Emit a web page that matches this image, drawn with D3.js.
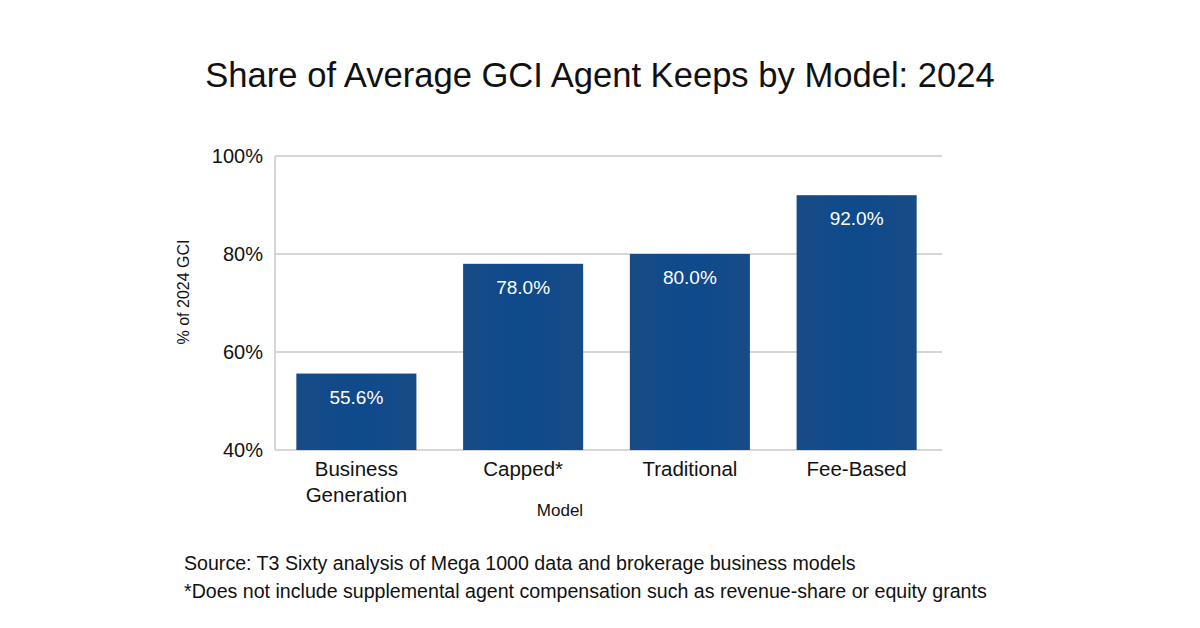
<!DOCTYPE html>
<html lang="en">
  <head>
    <meta charset="UTF-8" />
    <title>Share of Average GCI Agent Keeps by Model: 2024</title>
    <script src="https://d3js.org/d3.v7.min.js"></script>
    <style>
      body {
        margin: 0;
        background: #fff;
      }
      svg {
        display: block;
        font-family: "Liberation Sans", Arial, sans-serif;
      }
      .grid line {
        stroke: #c9c9c9;
        stroke-width: 1.5px;
      }
      .tick text {
        fill: #111;
      }
    </style>
  </head>
  <body>
    <svg id="chart" width="1200" height="628"></svg>
    <script>
      const models = [["Business", "Generation"], ["Capped*"], ["Traditional"], ["Fee-Based"]];
      const shares = [55.6, 78.0, 80.0, 92.0];
      const yTicks = [40, 60, 80, 100];
      const notes = [
        "Source: T3 Sixty analysis of Mega 1000 data and brokerage business models",
        "*Does not include supplemental agent compensation such as revenue-share or equity grants",
      ];

      const width = 1200;
      const height = 628;
      const margin = { top: 156, right: 258, bottom: 178, left: 275 };

      const svg = d3.select("#chart");

      // Title
      svg
        .append("text")
        .attr("x", width / 2)
        .attr("y", 87)
        .attr("text-anchor", "middle")
        .attr("font-size", 34.6)
        .attr("fill", "#111")
        .text("Share of Average GCI Agent Keeps by Model: 2024");

      const x = d3
        .scaleBand()
        .domain(d3.range(models.length))
        .range([margin.left, width - margin.right])
        .paddingInner(0.28)
        .paddingOuter(0.14);

      const y = d3
        .scaleLinear()
        .domain([40, 100])
        .range([height - margin.bottom, margin.top]);

      // Gridlines
      svg
        .append("g")
        .attr("class", "grid")
        .selectAll("line")
        .data(yTicks)
        .join("line")
        .attr("x1", margin.left)
        .attr("x2", width - margin.right)
        .attr("y1", (d) => y(d))
        .attr("y2", (d) => y(d));

      // left axis line
      svg
        .append("line")
        .attr("x1", margin.left)
        .attr("x2", margin.left)
        .attr("y1", y(100))
        .attr("y2", y(40))
        .attr("stroke", "#c9c9c9")
        .attr("stroke-width", 1.5);

      // Y axis labels
      const yAxis = svg
        .append("g")
        .attr("transform", `translate(${margin.left},0)`)
        .call(
          d3
            .axisLeft(y)
            .tickValues(yTicks)
            .tickSize(0)
            .tickPadding(12)
            .tickFormat((d) => d + "%")
        );
      yAxis.select(".domain").remove();
      yAxis.selectAll("text").attr("font-size", 20).attr("font-family", "Liberation Sans, Arial, sans-serif");

      // Bars
      const grad = svg
        .append("defs")
        .append("linearGradient")
        .attr("id", "barFill")
        .attr("x1", 0)
        .attr("x2", 1)
        .attr("y1", 0)
        .attr("y2", 0);
      grad.append("stop").attr("offset", "0%").attr("stop-color", "#174b86");
      grad.append("stop").attr("offset", "50%").attr("stop-color", "#0f4a8c");
      grad.append("stop").attr("offset", "100%").attr("stop-color", "#174b86");

      svg
        .append("g")
        .selectAll("rect")
        .data(shares)
        .join("rect")
        .attr("x", (d, i) => x(i) - 2)
        .attr("y", (d) => y(d))
        .attr("width", x.bandwidth())
        .attr("height", (d) => y(40) - y(d))
        .attr("fill", "url(#barFill)");

      // Value labels
      svg
        .append("g")
        .selectAll("text")
        .data(shares)
        .join("text")
        .attr("x", (d, i) => x(i) - 2 + x.bandwidth() / 2)
        .attr("y", (d) => y(d) + 30)
        .attr("text-anchor", "middle")
        .attr("font-size", 19)
        .attr("fill", "#fff")
        .text((d) => d.toFixed(1) + "%");

      // Category labels
      const cats = svg
        .append("g")
        .selectAll("text")
        .data(models)
        .join("text")
        .attr("x", (d, i) => x(i) - 2 + x.bandwidth() / 2)
        .attr("y", y(40) + 26)
        .attr("text-anchor", "middle")
        .attr("font-size", 20.5)
        .attr("fill", "#111");
      cats
        .selectAll("tspan")
        .data((d) => d)
        .join("tspan")
        .attr("x", function () {
          return this.parentNode.getAttribute("x");
        })
        .attr("dy", (d, i) => (i === 0 ? 0 : 26))
        .text((d) => d);

      // Axis titles
      svg
        .append("text")
        .attr("x", 560)
        .attr("y", 516)
        .attr("text-anchor", "middle")
        .attr("font-size", 17)
        .attr("fill", "#111")
        .text("Model");

      svg
        .append("text")
        .attr("transform", `translate(189,292) rotate(-90)`)
        .attr("text-anchor", "middle")
        .attr("font-size", 16)
        .attr("fill", "#111")
        .text("% of 2024 GCI");

      // Footnotes
      svg
        .append("g")
        .selectAll("text")
        .data(notes)
        .join("text")
        .attr("x", 184)
        .attr("y", (d, i) => 570 + i * 28)
        .attr("font-size", 19.6)
        .attr("fill", "#111")
        .text((d) => d);
    </script>
  </body>
</html>
